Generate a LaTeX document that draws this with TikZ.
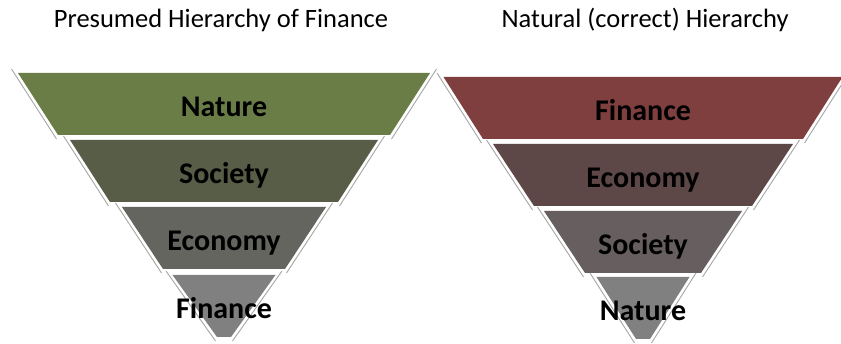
\documentclass[tikz,border=0pt]{standalone}
\usepackage{fontspec}
\setmainfont{Carlito}
\definecolor{couleurnatugauc}{HTML}{6B7D47}
\definecolor{couleursocigauc}{HTML}{585D47}
\definecolor{couleurecongauc}{HTML}{63655E}
\definecolor{couleurfinadroi}{HTML}{7F3F3F}
\definecolor{couleurecondroi}{HTML}{5D4747}
\definecolor{couleursocidroi}{HTML}{675F5F}
\definecolor{couleurgrisbas}{HTML}{808080}
\definecolor{couleurombre}{HTML}{A6A6A6}
% #1 centre x, #2 haut, #3 demi-largeur haut, #4 demi-largeur bas, #5 couleur, #6 nom, #7 texte
\newcommand{\tranche}[7]{
	\fill[#5] (#1-#3,#2) -- (#1+#3,#2) -- (#1+#4,#2+62) -- (#1-#4,#2+62) -- cycle;
	\draw[ombre] (#1-#3-6.5,#2-4) -- (#1-#4-1.5,#2+66);
	\draw[ombre] (#1+#3+6.5,#2-4) -- (#1+#4+1.5,#2+66);
	\node[etiquette] (#6) at (#1,#2+43.5) {#7};
}
\tikzset{
		ombre/.style={draw=couleurombre, line width=0.9pt},
		etiquette/.style={anchor=base, inner sep=0pt, text=black, font=\fontsize{30}{30}\selectfont\bfseries},
		titre/.style={anchor=base, inner sep=0pt, text=black, font=\fontsize{26.5}{30}\selectfont}
	}
\begin{document}
\begin{tikzpicture}[x=1pt, y=-1pt]
		\useasboundingbox[fill=white] (0,0) rectangle (841,344);
		% titres
		\node[titre] (titrgauc) at (221,28) {Presumed Hierarchy of Finance};
		\node[titre] (titrdroi) at (645,28) {Natural (correct) Hierarchy};
		
		% pyramide gauche
		\tranche{224}{73}{206}{166}{couleurnatugauc}{gnature}{Nature}
		\tranche{224}{140}{154}{114}{couleursocigauc}{gsociete}{Society}
		\tranche{224}{207}{102}{61}{couleurecongauc}{geconomi}{Economy}
		\tranche{224}{275}{51.5}{7}{couleurgrisbas}{gfinance}{Finance}
		
		% pyramide droite
		\tranche{643}{77}{199.5}{160}{couleurfinadroi}{dfinance}{Finance}
		\tranche{643}{144}{150}{109}{couleurecondroi}{deconomi}{Economy}
		\tranche{643}{211}{99}{58}{couleursocidroi}{dsociete}{Society}
		\tranche{643}{277}{46.5}{7}{couleurgrisbas}{dnature}{Nature}
	\end{tikzpicture}
\end{document}
